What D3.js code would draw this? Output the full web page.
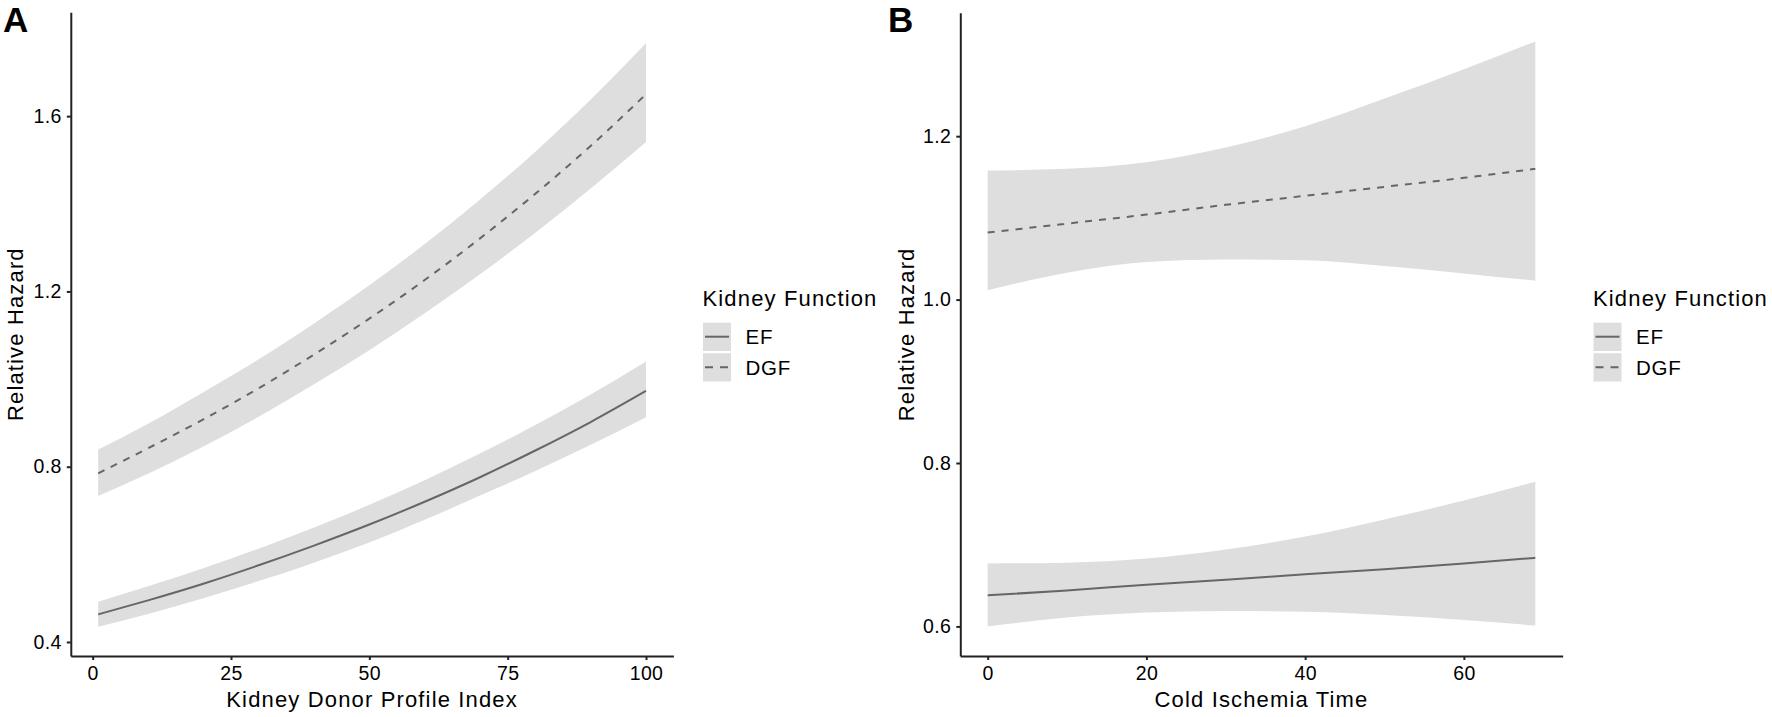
<!DOCTYPE html>
<html>
<head>
<meta charset="utf-8">
<script src="https://cdn.jsdelivr.net/npm/d3@7"></script>
<style>
  body { margin: 0; background: #fff; }
  svg { display: block; }
  text { font-family: "Liberation Sans", Arial, sans-serif; fill: #000; }
</style>
</head>
<body>
<div id="chart"></div>
<script>
// Panel A: Kidney Donor Profile Index
const kdpiX = [1, 10, 20, 30, 40, 50, 60, 70, 80, 90, 100];
const kdpiEF = [0.463, 0.495, 0.533, 0.575, 0.620, 0.668, 0.720, 0.776, 0.837, 0.902, 0.973];
const kdpiEFLow = [0.435, 0.464, 0.500, 0.539, 0.581, 0.627, 0.679, 0.734, 0.790, 0.850, 0.913];
const kdpiEFHigh = [0.492, 0.527, 0.568, 0.613, 0.661, 0.713, 0.769, 0.830, 0.895, 0.965, 1.040];
const kdpiDGF = [0.785, 0.842, 0.908, 0.979, 1.056, 1.138, 1.226, 1.321, 1.423, 1.532, 1.650];
const kdpiDGFLow = [0.733, 0.784, 0.846, 0.914, 0.988, 1.066, 1.150, 1.239, 1.334, 1.435, 1.541];
const kdpiDGFHigh = [0.839, 0.898, 0.970, 1.045, 1.127, 1.214, 1.308, 1.410, 1.519, 1.638, 1.767];
const kdpiXTicks = [0, 25, 50, 75, 100];
const kdpiYTicks = [0.4, 0.8, 1.2, 1.6];

// Panel B: Cold Ischemia Time
const citX = [0, 10, 20, 30, 40, 50, 60, 69];
const citEF = [0.638, 0.644, 0.651, 0.657, 0.664, 0.670, 0.677, 0.684];
const citEFLow = [0.600, 0.611, 0.617, 0.619, 0.618, 0.614, 0.608, 0.601];
const citEFHigh = [0.677, 0.678, 0.683, 0.694, 0.710, 0.731, 0.754, 0.777];
const citDGF = [1.082, 1.093, 1.104, 1.116, 1.127, 1.138, 1.149, 1.160];
const citDGFLow = [1.0115, 1.033, 1.046, 1.049, 1.048, 1.041, 1.032, 1.023];
const citDGFHigh = [1.158, 1.160, 1.168, 1.186, 1.212, 1.246, 1.282, 1.316];
const citXTicks = [0, 20, 40, 60];
const citYTicks = [0.6, 0.8, 1.0, 1.2];

const groups = ["EF", "DGF"];
const legendTitle = "Kidney Function";

const width = 1772, height = 717;
const bandColor = "#dedede";
const lineColor = "#666666";
const axisColor = "#222222";

const svg = d3.select("#chart").append("svg")
    .attr("width", width)
    .attr("height", height);

function drawPanel(cfg) {
    const x = d3.scaleLinear().domain(cfg.xDomain).range([cfg.left, cfg.right]);
    const y = d3.scaleLinear().domain(cfg.yDomain).range([cfg.bottom, cfg.top]);
    const g = svg.append("g");

    const series = [
        { name: "EF", mid: cfg.ef, lo: cfg.efLow, hi: cfg.efHigh, dash: null },
        { name: "DGF", mid: cfg.dgf, lo: cfg.dgfLow, hi: cfg.dgfHigh, dash: "7,7" }
    ];

    const area = d3.area()
        .x(d => x(d.x))
        .y0(d => y(d.lo))
        .y1(d => y(d.hi))
        .curve(d3.curveMonotoneX);
    const line = d3.line()
        .x(d => x(d.x))
        .y(d => y(d.v))
        .curve(d3.curveMonotoneX);

    // Confidence ribbons first, then the fitted lines
    series.forEach(s => {
        const pts = cfg.xs.map((xv, i) => ({ x: xv, lo: s.lo[i], hi: s.hi[i] }));
        g.append("path").attr("d", area(pts)).attr("fill", bandColor);
    });
    series.forEach(s => {
        const pts = cfg.xs.map((xv, i) => ({ x: xv, v: s.mid[i] }));
        g.append("path")
            .attr("d", line(pts))
            .attr("fill", "none")
            .attr("stroke", lineColor)
            .attr("stroke-width", 2)
            .attr("stroke-dasharray", s.dash);
    });

    // Axes
    const xAxis = g.append("g")
        .attr("transform", `translate(0,${cfg.bottom})`)
        .call(d3.axisBottom(x).tickValues(cfg.xTicks).tickSize(4).tickSizeOuter(0).tickPadding(6.5)
            .tickFormat(d3.format("d")));
    const yAxis = g.append("g")
        .attr("transform", `translate(${cfg.left},0)`)
        .call(d3.axisLeft(y).tickValues(cfg.yTicks).tickSize(4).tickSizeOuter(0).tickPadding(5)
            .tickFormat(d3.format(".1f")));
    [xAxis, yAxis].forEach(a => {
        a.select(".domain").attr("stroke", axisColor).attr("stroke-width", 2);
        a.selectAll(".tick line").attr("stroke", axisColor).attr("stroke-width", 2);
        a.selectAll(".tick text")
            .attr("fill", "#1a1a1a")
            .style("font-family", '"Liberation Sans", Arial, sans-serif')
            .style("font-size", "19.5px")
            .style("letter-spacing", "0.4px");
    });

    // Axis titles
    g.append("text")
        .attr("x", (cfg.left + cfg.right) / 2)
        .attr("y", 706.5)
        .attr("text-anchor", "middle")
        .style("font-size", "22px")
        .style("letter-spacing", "1.15px")
        .text(cfg.xTitle);
    g.append("text")
        .attr("transform", `translate(${cfg.yTitleX},${(cfg.top + cfg.bottom) / 2}) rotate(-90)`)
        .attr("text-anchor", "middle")
        .style("font-size", "22px")
        .style("letter-spacing", "1.15px")
        .text("Relative Hazard");

    // Panel letter
    g.append("text")
        .attr("x", cfg.letterX)
        .attr("y", 31.7)
        .style("font-size", "35px")
        .style("font-weight", "bold")
        .text(cfg.letter);

    // Legend
    const lg = g.append("g").attr("transform", `translate(${cfg.legendX},0)`);
    lg.append("text")
        .attr("x", 0)
        .attr("y", 306)
        .style("font-size", "22px")
        .style("letter-spacing", "1.15px")
        .text(legendTitle);
    groups.forEach((name, i) => {
        const top = 322.7 + i * 30.5;
        lg.append("rect")
            .attr("x", 0.5)
            .attr("y", top)
            .attr("width", 28)
            .attr("height", 28.3)
            .attr("fill", bandColor);
        lg.append("line")
            .attr("x1", 2.5).attr("x2", 26.5)
            .attr("y1", top + 14).attr("y2", top + 14)
            .attr("stroke", lineColor)
            .attr("stroke-width", 2)
            .attr("stroke-dasharray", name === "DGF" ? "8,7" : null);
        lg.append("text")
            .attr("x", 43)
            .attr("y", top + 21.5)
            .style("font-size", "20.5px")
            .style("letter-spacing", "0.8px")
            .text(name);
    });
}

drawPanel({
    letter: "A", letterX: 3,
    left: 70.8, right: 673.4, top: 12.3, bottom: 656,
    xDomain: [-3.95, 104.95], yDomain: [0.368, 1.837],
    xs: kdpiX,
    ef: kdpiEF, efLow: kdpiEFLow, efHigh: kdpiEFHigh,
    dgf: kdpiDGF, dgfLow: kdpiDGFLow, dgfHigh: kdpiDGFHigh,
    xTicks: kdpiXTicks, yTicks: kdpiYTicks,
    xTitle: "Kidney Donor Profile Index", yTitleX: 23,
    legendX: 702.5
});

drawPanel({
    letter: "B", letterX: 888,
    left: 960.3, right: 1562.7, top: 12.8, bottom: 656,
    xDomain: [-3.45, 72.45], yDomain: [0.5638, 1.351],
    xs: citX,
    ef: citEF, efLow: citEFLow, efHigh: citEFHigh,
    dgf: citDGF, dgfLow: citDGFLow, dgfHigh: citDGFHigh,
    xTicks: citXTicks, yTicks: citYTicks,
    xTitle: "Cold Ischemia Time", yTitleX: 914,
    legendX: 1593
});
</script>
</body>
</html>
